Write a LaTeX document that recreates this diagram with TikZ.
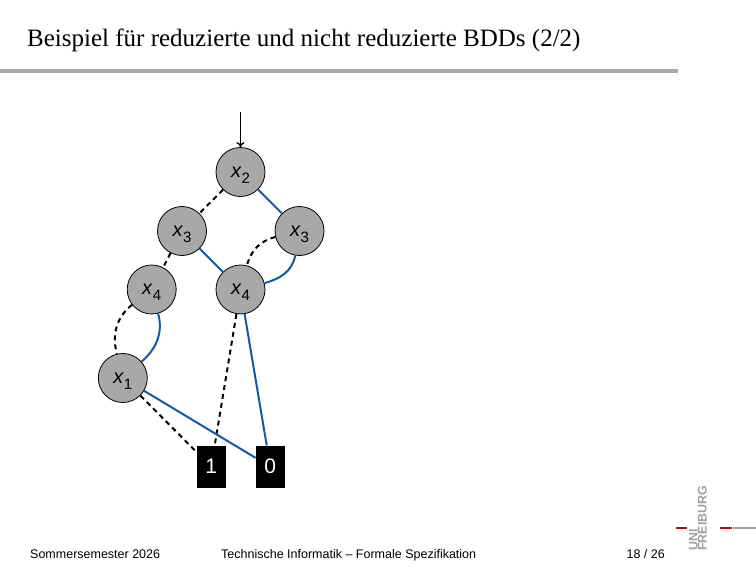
\documentclass[tikz,border=0pt]{standalone}
\usepackage{fontspec}
\setmainfont{Liberation Serif}
\setsansfont{Liberation Sans}
\usetikzlibrary{arrows.meta}
\definecolor{highblue}{RGB}{16,90,170}
\definecolor{nodegray}{RGB}{168,168,168}
\definecolor{rulegray}{RGB}{170,170,170}
\definecolor{logogray}{RGB}{160,160,160}
\definecolor{logored}{RGB}{170,20,25}
\newcommand{\bddvar}[1]{{\fontsize{20}{20}\selectfont\textit{x}}\raisebox{-6pt}[0pt][0pt]{\fontsize{15}{15}\selectfont #1}}
\begin{document}
\begin{tikzpicture}[x=1pt,y=1pt,
        var/.style={circle,draw,line width=0.8pt,fill=nodegray,minimum size=49pt,inner sep=0pt,font=\sffamily},
        leaf/.style={rectangle,fill=black,text=white,minimum width=29pt,minimum height=42pt,inner sep=0pt,font=\sffamily\fontsize{21}{21}\selectfont},
        low/.style={line width=2pt,dash pattern=on 5pt off 4pt},
        high/.style={line width=2pt,highblue},
        plain/.style={inner sep=0pt,font=\sffamily\fontsize{12.5}{12.5}\selectfont}]
        \useasboundingbox (0,0) rectangle (756,-567);
        % title and rule
        \node[inner sep=0pt,anchor=base west,font=\fontsize{25}{25}\selectfont] (title) at (27,-47) {Beispiel für reduzierte und nicht reduzierte BDDs (2/2)};
        \fill[rulegray] (0,-69.5) rectangle (678,-73);
        % the BDD
        \node[var] (x2) at (240.5,-172) {\bddvar{2}};
        \node[var] (x3a) at (182,-231) {\bddvar{3}};
        \node[var] (x3b) at (299.5,-231) {\bddvar{3}};
        \node[var] (x4a) at (151.7,-289.5) {\bddvar{4}};
        \node[var] (x4b) at (240.5,-289.5) {\bddvar{4}};
        \node[var] (x1) at (122.8,-378) {\bddvar{1}};
        \node[leaf] (one) at (211.2,-466.7) {1};
        \node[leaf] (zero) at (270.3,-466.7) {0};
        \coordinate (root) at (240.5,-112);
        \draw[line width=1.3pt,-{To[length=5pt,width=8pt]}] (root) -- (x2);
        \draw[low] (x2) -- (x3a);
        \draw[high] (x2) -- (x3b);
        \draw[low] (x3a) -- (x4a);
        \draw[high] (x3a) -- (x4b);
        \draw[low] (x3b) to[out=194,in=75] (x4b);
        \draw[high] (x3b) to[out=-100,in=15] (x4b);
        \draw[low] (x4a) to[out=218,in=104] (x1);
        \draw[high] (x4a) to[out=-75,in=41] (x1);
        \draw[low] (x4b) -- (one);
        \draw[high] (x4b) -- (zero);
        \draw[low] (x1) -- (one);
        \draw[high] (x1) -- (zero);
        % footer
        \node[plain,anchor=base west] (term) at (30,-558) {Sommersemester 2026};
        \node[plain,anchor=base west] (course) at (221,-558) {Technische Informatik – Formale Spezifikation};
        \node[plain,anchor=base east] (page) at (665,-558) {18 / 26};
        % logo
        \fill[logored] (676,-526.5) rectangle (687,-529);
        \fill[logored] (720,-526.5) rectangle (732,-529);
        \fill[logogray] (733,-526.5) rectangle (756,-529);
        \node[rotate=90,anchor=base west,inner sep=0pt,text=logogray,font=\sffamily\bfseries\fontsize{12.5}{12.5}\selectfont] (uni) at (697.5,-551) {UNI};
        \node[rotate=90,anchor=base west,inner sep=0pt,text=logogray,font=\sffamily\bfseries\fontsize{12.5}{12.5}\selectfont] (freiburg) at (706.5,-551) {FREIBURG};
\end{tikzpicture}
\end{document}
